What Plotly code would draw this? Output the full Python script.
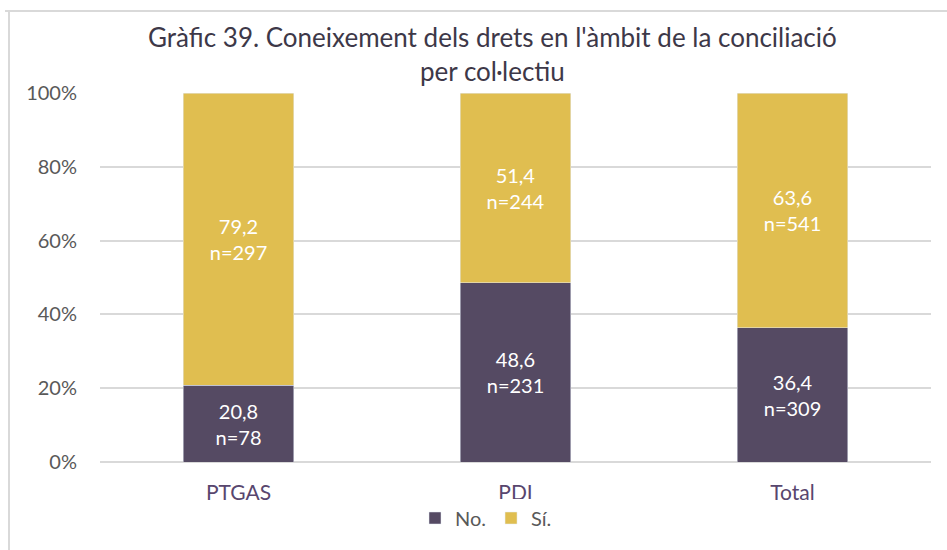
import plotly.graph_objects as go

# Data
categories = ["PTGAS", "PDI", "Total"]
no_pct = [20.8, 48.6, 36.4]
no_n = [78, 231, 309]
si_pct = [79.2, 51.4, 63.6]
si_n = [297, 244, 541]
y_ticks = [0, 20, 40, 60, 80, 100]
y_tick_labels = ["0%", "20%", "40%", "60%", "80%", "100%"]

FONT = "Lato"
PURPLE = "#554a63"
YELLOW = "#e0be50"
GRID = "#d9d9d9"


def fmt(v):
    return f"{v:.1f}".replace(".", ",")


def labels(pcts, ns):
    return [f"{fmt(p)}<br>n={n}" for p, n in zip(pcts, ns)]


fig = go.Figure()
fig.add_trace(go.Bar(
    name="No.", x=categories, y=no_pct, marker_color=PURPLE,
    text=labels(no_pct, no_n), textposition="inside", insidetextanchor="middle",
    textfont=dict(family=FONT, size=20, color="white"), hoverinfo="skip",
))
fig.add_trace(go.Bar(
    name="Sí.", x=categories, y=si_pct, marker_color=YELLOW,
    text=labels(si_pct, si_n), textposition="inside", insidetextanchor="middle",
    textfont=dict(family=FONT, size=20, color="white"), hoverinfo="skip",
))

# plot area in pixels
L, R, T, B = 100, 931, 93, 462
W, H = 947, 550


def px_x(px):
    return (px - L) / (R - L)


def px_y(py):
    return (B - py) / (B - T)


fig.update_layout(
    width=W, height=H,
    margin=dict(l=L, r=W - R, t=T, b=H - B),
    barmode="stack", bargap=0.6,
    plot_bgcolor="white", paper_bgcolor="white",
    font=dict(family=FONT, color="#595959"),
    title=dict(
        text="Gràfic 39. Coneixement dels drets en l'àmbit de la conciliació<br>per col·lectiu",
        x=0.52, xanchor="center", y=1 - 47 / H, yanchor="middle",
        font=dict(family=FONT, size=26, color="#3d3848"),
    ),
    yaxis=dict(
        range=[0, 100], tickvals=y_ticks, ticktext=y_tick_labels,
        showgrid=True, gridcolor=GRID, gridwidth=1.5,
        zeroline=True, zerolinecolor=GRID, zerolinewidth=1.5,
        showline=False, ticklabelstandoff=22,
        tickfont=dict(family=FONT, size=20, color="#595959"),
    ),
    xaxis=dict(
        showline=False, showgrid=False, ticklabelstandoff=16,
        tickfont=dict(family=FONT, size=21, color="#58466e"),
    ),
    legend=dict(
        orientation="h", x=px_x(486), xanchor="center", y=px_y(518), yanchor="middle",
        font=dict(family=FONT, size=20, color="#595959"),
        itemwidth=30, traceorder="normal",
    ),
    showlegend=True,
    shapes=[
        dict(type="line", xref="paper", yref="paper",
             x0=px_x(5), x1=px_x(947), y0=px_y(11), y1=px_y(11),
             line=dict(color=GRID, width=2)),
        dict(type="line", xref="paper", yref="paper",
             x0=px_x(9), x1=px_x(9), y0=px_y(11), y1=px_y(550),
             line=dict(color=GRID, width=2)),
    ],
)

fig.write_html("out.html")
